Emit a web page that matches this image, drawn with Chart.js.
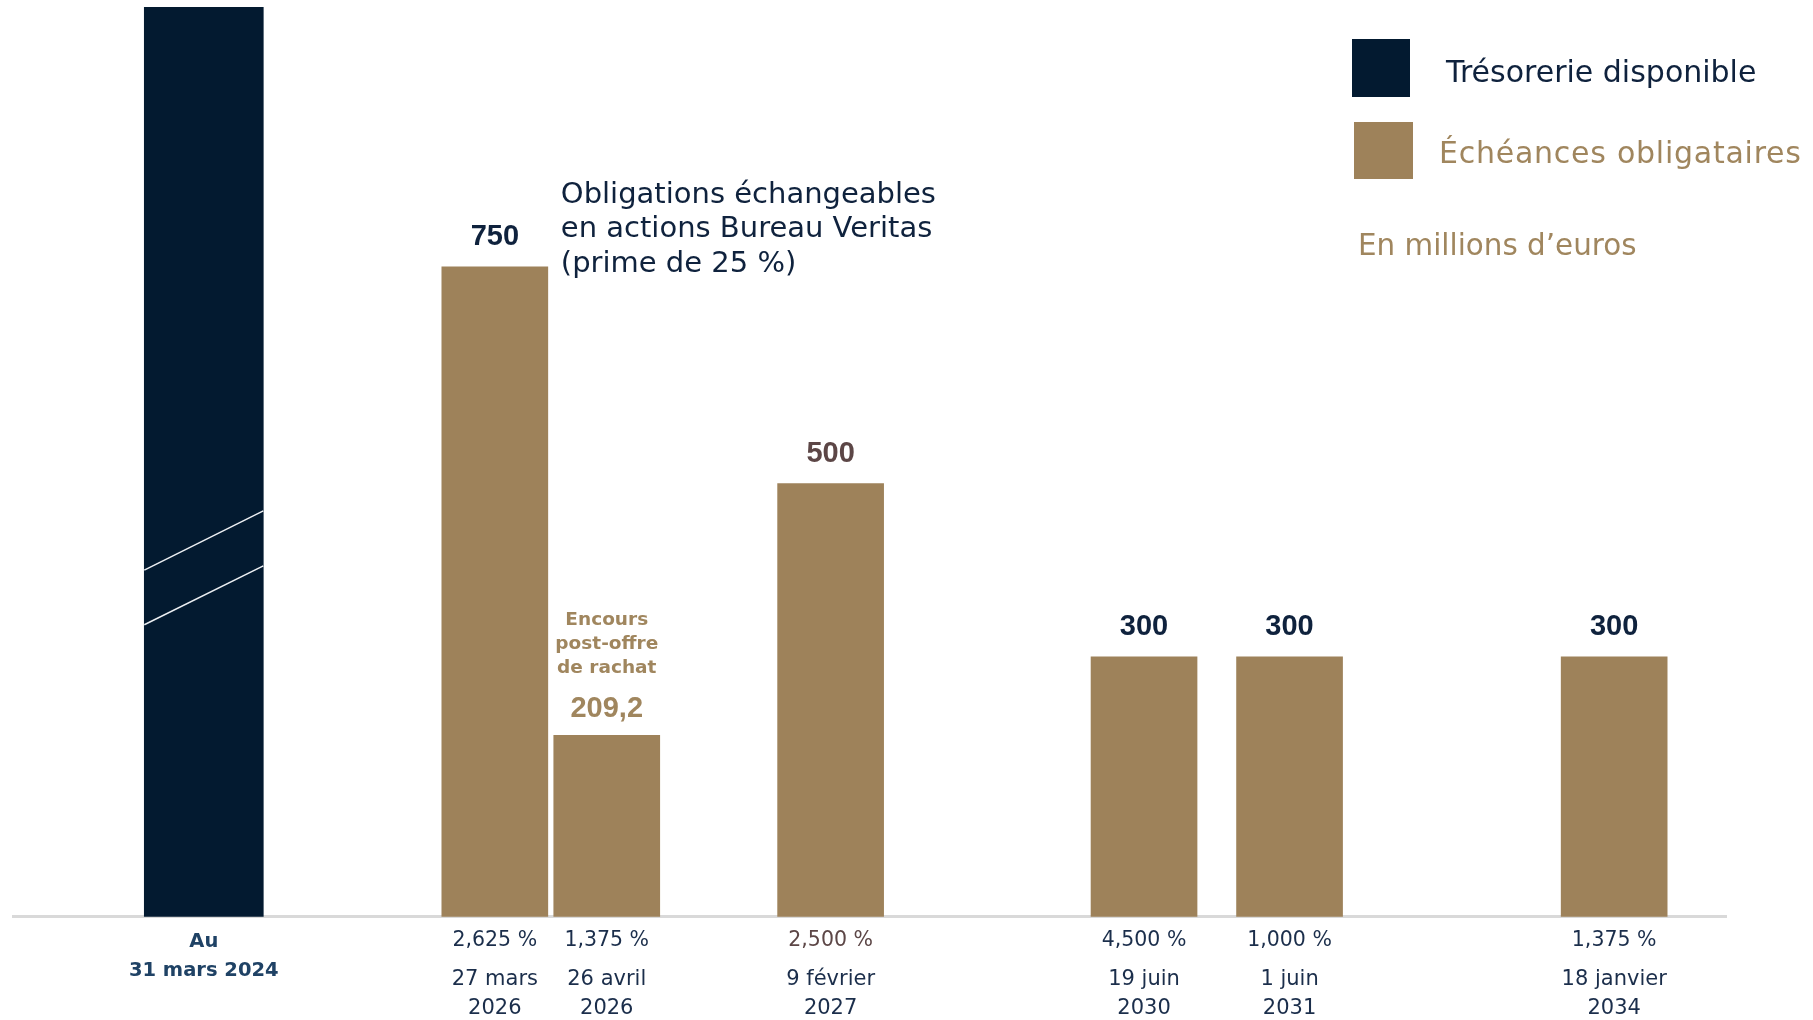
<!DOCTYPE html>
<html lang="fr">
<head>
<meta charset="utf-8">
<title>Échéances obligataires</title>
<script src="https://cdn.jsdelivr.net/npm/chart.js@4.4.1/dist/chart.umd.min.js"></script>
<style>
  html, body { margin: 0; padding: 0; background: #fff; }
  #graph { display: block; }
</style>
</head>
<body>
<canvas id="graph" width="1813" height="1020"></canvas>
<script>
// Données (en millions d'euros)
const categories = ["31 mars 2024", "27 mars 2026", "26 avril 2026", "9 février 2027", "19 juin 2030", "1 juin 2031", "18 janvier 2034"];
const dateLines = [["Au", "31 mars 2024"], ["27 mars", "2026"], ["26 avril", "2026"], ["9 février", "2027"], ["19 juin", "2030"], ["1 juin", "2031"], ["18 janvier", "2034"]];
const coupons = [null, "2,625 %", "1,375 %", "2,500 %", "4,500 %", "1,000 %", "1,375 %"];
const tresorerie = [1050, null, null, null, null, null, null]; // barre coupée en haut, valeur estimée
const echeances = [null, 750, 209.2, 500, 300, 300, 300];

// Mise en page : emplacements sur l'axe des catégories (espacement irrégulier)
const NB_SLOTS = 154;
const SLOTS = [17, 43, 53, 73, 101, 114, 143];

const NAVY = "#031a30";
const GOLD = "#9e825a";
const TXT_NAVY = "#0f223d";
const TXT_TICK = "#1b2e4b";
const TXT_STEEL = "#1f4265";
const TXT_GOLD = "#a0865e";
const TXT_BROWN = "#5c4646";

const valueColors = [null, TXT_NAVY, TXT_GOLD, TXT_BROWN, TXT_NAVY, TXT_NAVY, TXT_NAVY];
const couponColors = [null, TXT_TICK, TXT_TICK, TXT_BROWN, TXT_TICK, TXT_TICK, TXT_TICK];

const SANS = '"DejaVu Sans", "Noto Sans", sans-serif';
const ARIAL = '"Liberation Sans", Arial, sans-serif';

// tableau complet pour l'axe
const labels = new Array(NB_SLOTS).fill("");
const dataTreso = new Array(NB_SLOTS).fill(null);
const dataEch = new Array(NB_SLOTS).fill(null);
SLOTS.forEach((s, i) => {
  labels[s] = categories[i];
  dataTreso[s] = tresorerie[i];
  dataEch[s] = echeances[i];
});

const fmt = v => String(v).replace(".", ",");

function text(ctx, str, x, y, font, color, align, spacing) {
  ctx.font = font;
  ctx.fillStyle = color;
  ctx.textAlign = align || "center";
  ctx.textBaseline = "alphabetic";
  ctx.letterSpacing = spacing || "0px";
  ctx.fillText(str, x, y);
  ctx.letterSpacing = "0px";
}

const decorations = {
  id: "decorations",
  afterDatasetsDraw(chart) {
    const { ctx, chartArea, scales } = chart;
    ctx.save();

    // traits de coupure sur la barre de trésorerie
    const treso = chart.getDatasetMeta(0).data[SLOTS[0]];
    ctx.strokeStyle = "#eceff2";
    ctx.lineWidth = 1.5;
    [[400, 468.5], [337, 405]].forEach(([a, b]) => {
      ctx.beginPath();
      ctx.moveTo(treso.x - treso.width / 2, scales.y.getPixelForValue(a));
      ctx.lineTo(treso.x + treso.width / 2, scales.y.getPixelForValue(b));
      ctx.stroke();
    });

    // valeurs au-dessus des barres
    const meta = chart.getDatasetMeta(1);
    SLOTS.forEach((s, i) => {
      if (echeances[i] == null) return;
      const bar = meta.data[s];
      const lift = i === 2 ? 18 : 22;
      text(ctx, fmt(echeances[i]), bar.x, bar.y - lift, "bold 29px " + ARIAL, valueColors[i]);
    });

    // encours post-offre
    const rachat = meta.data[SLOTS[2]];
    ["Encours", "post-offre", "de rachat"].forEach((l, k) => {
      text(ctx, l, rachat.x, rachat.y - 110 + k * 24, "bold 18.5px " + SANS, TXT_GOLD);
    });

    // note sur l'obligation échangeable
    const oe = meta.data[SLOTS[1]];
    ["Obligations échangeables", "en actions Bureau Veritas", "(prime de 25 %)"].forEach((l, k) => {
      text(ctx, l, oe.x + oe.width / 2 + 13, oe.y - 64 + k * 34.5, "29px " + SANS, TXT_NAVY, "left");
    });

    // libellés sous l'axe
    const bottom = chartArea.bottom;
    SLOTS.forEach((s, i) => {
      const x = scales.x.getPixelForValue(s);
      if (i === 0) {
        text(ctx, dateLines[0][0], x, bottom + 30, "bold 19.5px " + SANS, TXT_STEEL);
        text(ctx, dateLines[0][1], x, bottom + 59, "bold 19.5px " + SANS, TXT_STEEL);
        return;
      }
      text(ctx, coupons[i], x, bottom + 29, "20.5px " + SANS, couponColors[i]);
      text(ctx, dateLines[i][0], x, bottom + 68, "21px " + SANS, TXT_TICK);
      text(ctx, dateLines[i][1], x, bottom + 97, "21px " + SANS, TXT_TICK);
    });

    // légende
    ctx.fillStyle = NAVY;
    ctx.fillRect(1352, 39, 58, 58);
    ctx.fillStyle = GOLD;
    ctx.fillRect(1354, 122, 59, 57);
    text(ctx, chart.data.datasets[0].label, 1446, 82, "30px " + SANS, TXT_NAVY, "left");
    text(ctx, chart.data.datasets[1].label, 1439, 163, "30px " + SANS, TXT_GOLD, "left", "0.75px");
    text(ctx, "En millions d\u2019euros", 1358, 255, "29.4px " + SANS, TXT_GOLD, "left");

    ctx.restore();
  }
};

new Chart(document.getElementById("graph").getContext("2d"), {
  type: "bar",
  data: {
    labels: labels,
    datasets: [
      { label: "Trésorerie disponible", data: dataTreso, backgroundColor: NAVY, barThickness: 119 },
      { label: "Échéances obligataires", data: dataEch, backgroundColor: GOLD, barThickness: 106 }
    ]
  },
  options: {
    responsive: false,
    animation: false,
    layout: { padding: { left: 13.5, right: 86.9, top: 7, bottom: 103.3 } },
    datasets: { bar: { grouped: false } },
    plugins: {
      legend: { display: false },
      tooltip: { enabled: false }
    },
    scales: {
      x: {
        offset: false,
        grid: { display: false, drawTicks: false },
        ticks: { display: false },
        border: { display: true, color: "#d9d9d9", width: 3 }
      },
      y: { display: false, min: 0, max: 1050 }
    }
  },
  plugins: [decorations]
});
</script>
</body>
</html>
